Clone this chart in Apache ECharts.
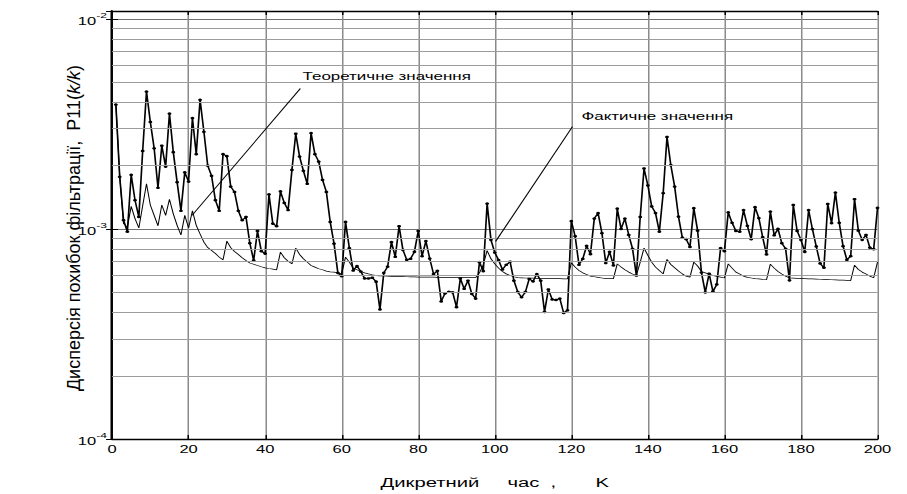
<!DOCTYPE html>
<html>
<head>
<meta charset="utf-8">
<script src="https://cdn.jsdelivr.net/npm/echarts@6/dist/echarts.min.js"></script>
<style>
  html, body { margin: 0; background: #fff; overflow: hidden; }
  /* the reference is a horizontally stretched picture, so draw narrow and stretch */
  #chart { width: 605px; height: 494px; transform: scaleX(1.5); transform-origin: 0 0; }
</style>
</head>
<body>
<div id="chart"></div>
<script>
// step k = 1..200, filter error variance P11(k/k)
const actual = [
  3.91e-3, 1.77e-3, 1.10e-3, 0.97e-3, 1.81e-3, 1.37e-3, 1.14e-3, 2.35e-3, 4.51e-3, 3.23e-3,
  2.42e-3, 1.57e-3, 2.49e-3, 1.98e-3, 3.54e-3, 2.32e-3, 1.67e-3, 1.22e-3, 1.86e-3, 1.68e-3,
  3.37e-3, 2.27e-3, 4.12e-3, 2.90e-3, 2.00e-3, 1.79e-3, 1.37e-3, 1.22e-3, 2.27e-3, 2.22e-3,
  1.59e-3, 1.50e-3, 1.22e-3, 1.10e-3, 1.14e-3, 0.855e-3, 0.708e-3, 0.978e-3, 0.784e-3, 0.763e-3,
  1.46e-3, 1.06e-3, 1.03e-3, 1.51e-3, 1.33e-3, 1.23e-3, 1.91e-3, 2.84e-3, 2.21e-3, 1.89e-3,
  1.64e-3, 2.86e-3, 2.27e-3, 2.09e-3, 1.71e-3, 1.50e-3, 1.08e-3, 0.851e-3, 0.618e-3, 0.596e-3,
  1.08e-3, 0.810e-3, 0.634e-3, 0.666e-3, 0.627e-3, 0.581e-3, 0.581e-3, 0.586e-3, 0.561e-3, 0.414e-3,
  0.618e-3, 0.661e-3, 0.865e-3, 0.737e-3, 1.03e-3, 0.795e-3, 0.713e-3, 0.721e-3, 0.778e-3, 0.978e-3,
  0.742e-3, 0.875e-3, 0.723e-3, 0.610e-3, 0.632e-3, 0.452e-3, 0.493e-3, 0.502e-3, 0.499e-3, 0.424e-3,
  0.581e-3, 0.519e-3, 0.567e-3, 0.491e-3, 0.466e-3, 0.695e-3, 0.630e-3, 1.32e-3, 0.887e-3, 0.772e-3,
  0.711e-3, 0.641e-3, 0.675e-3, 0.698e-3, 0.567e-3, 0.501e-3, 0.473e-3, 0.501e-3, 0.578e-3, 0.563e-3,
  0.610e-3, 0.567e-3, 0.403e-3, 0.515e-3, 0.462e-3, 0.459e-3, 0.466e-3, 0.398e-3, 0.410e-3, 1.09e-3,
  0.923e-3, 0.675e-3, 0.721e-3, 0.831e-3, 0.758e-3, 1.12e-3, 1.19e-3, 0.954e-3, 0.688e-3, 0.778e-3,
  0.670e-3, 1.25e-3, 1.00e-3, 1.12e-3, 0.936e-3, 0.804e-3, 0.600e-3, 1.14e-3, 1.94e-3, 1.61e-3,
  1.28e-3, 1.19e-3, 0.970e-3, 1.48e-3, 2.74e-3, 2.01e-3, 1.59e-3, 1.145e-3, 0.909e-3, 0.894e-3,
  0.821e-3, 1.256e-3, 0.981e-3, 0.620e-3, 0.499e-3, 0.612e-3, 0.504e-3, 0.544e-3, 0.810e-3, 0.784e-3,
  1.20e-3, 1.07e-3, 0.978e-3, 0.970e-3, 1.23e-3, 1.035e-3, 0.894e-3, 1.27e-3, 1.126e-3, 0.913e-3,
  0.756e-3, 1.21e-3, 0.933e-3, 1.00e-3, 0.855e-3, 0.804e-3, 0.569e-3, 1.30e-3, 0.978e-3, 0.887e-3,
  0.778e-3, 1.23e-3, 0.997e-3, 0.825e-3, 0.685e-3, 0.654e-3, 1.315e-3, 1.066e-3, 1.49e-3, 1.07e-3,
  0.828e-3, 0.713e-3, 0.742e-3, 1.385e-3, 0.981e-3, 0.887e-3, 0.936e-3, 0.815e-3, 0.801e-3, 1.26e-3
];

const theory = [
  3.91e-3, 1.79e-3, 1.06e-3, 1.02e-3, 1.28e-3, 1.12e-3, 1.01e-3, 1.29e-3, 1.64e-3, 1.30e-3,
  1.16e-3, 1.035e-3, 1.30e-3, 1.16e-3, 1.385e-3, 1.18e-3, 1.04e-3, 0.936e-3, 1.16e-3, 1.01e-3,
  1.22e-3, 1.04e-3, 0.946e-3, 0.865e-3, 0.815e-3, 0.789e-3, 0.764e-3, 0.734e-3, 0.713e-3, 0.875e-3,
  0.815e-3, 0.781e-3, 0.755e-3, 0.729e-3, 0.708e-3, 0.688e-3, 0.679e-3, 0.670e-3, 0.661e-3, 0.653e-3,
  0.648e-3, 0.644e-3, 0.639e-3, 0.776e-3, 0.729e-3, 0.702e-3, 0.682e-3, 0.810e-3, 0.756e-3, 0.721e-3,
  0.695e-3, 0.670e-3, 0.658e-3, 0.646e-3, 0.639e-3, 0.630e-3, 0.625e-3, 0.623e-3, 0.618e-3, 0.611e-3,
  0.734e-3, 0.695e-3, 0.651e-3, 0.639e-3, 0.627e-3, 0.618e-3, 0.611e-3, 0.605e-3, 0.600e-3, 0.598e-3,
  0.597e-3, 0.596e-3, 0.595e-3, 0.594e-3, 0.593e-3, 0.593e-3, 0.592e-3, 0.591e-3, 0.591e-3, 0.590e-3,
  0.590e-3, 0.589e-3, 0.589e-3, 0.589e-3, 0.588e-3, 0.588e-3, 0.588e-3, 0.587e-3, 0.587e-3, 0.587e-3,
  0.587e-3, 0.586e-3, 0.586e-3, 0.586e-3, 0.586e-3, 0.618e-3, 0.675e-3, 0.789e-3, 0.721e-3, 0.682e-3,
  0.651e-3, 0.627e-3, 0.611e-3, 0.600e-3, 0.592e-3, 0.586e-3, 0.585e-3, 0.584e-3, 0.583e-3, 0.583e-3,
  0.582e-3, 0.582e-3, 0.581e-3, 0.581e-3, 0.580e-3, 0.580e-3, 0.580e-3, 0.579e-3, 0.579e-3, 0.690e-3,
  0.658e-3, 0.634e-3, 0.618e-3, 0.607e-3, 0.596e-3, 0.592e-3, 0.588e-3, 0.584e-3, 0.580e-3, 0.580e-3,
  0.580e-3, 0.682e-3, 0.658e-3, 0.639e-3, 0.623e-3, 0.610e-3, 0.600e-3, 0.695e-3, 0.810e-3, 0.749e-3,
  0.695e-3, 0.658e-3, 0.634e-3, 0.611e-3, 0.716e-3, 0.677e-3, 0.653e-3, 0.630e-3, 0.611e-3, 0.596e-3,
  0.590e-3, 0.695e-3, 0.666e-3, 0.627e-3, 0.618e-3, 0.609e-3, 0.600e-3, 0.594e-3, 0.590e-3, 0.584e-3,
  0.682e-3, 0.651e-3, 0.623e-3, 0.610e-3, 0.596e-3, 0.588e-3, 0.584e-3, 0.580e-3, 0.578e-3, 0.575e-3,
  0.573e-3, 0.680e-3, 0.651e-3, 0.627e-3, 0.610e-3, 0.596e-3, 0.584e-3, 0.583e-3, 0.582e-3, 0.581e-3,
  0.580e-3, 0.579e-3, 0.578e-3, 0.577e-3, 0.576e-3, 0.575e-3, 0.574e-3, 0.573e-3, 0.572e-3, 0.571e-3,
  0.570e-3, 0.569e-3, 0.568e-3, 0.673e-3, 0.641e-3, 0.623e-3, 0.610e-3, 0.596e-3, 0.586e-3, 0.695e-3
];

// log grid lines between the decades
const yMinor = [
  2e-4, 3e-4, 4e-4, 5e-4, 6e-4, 7e-4, 8e-4, 9e-4,
  2e-3, 3e-3, 4e-3, 5e-3, 6e-3, 7e-3, 8e-3, 9e-3
];
const xMin = 0;
const xMax = 200;
const yMin = 1e-4;
const yTop = 1.09e-2;

// pointer lines with their captions: [k, value]
const theoryNote = { from: [20.9, 1.16e-3], to: [49.2, 4.66e-3], text: 'Теоретичне значення' };
const actualNote = { from: [100.2, 0.871e-3], to: [120.3, 3.07e-3], text: 'Фактичне значення' };

const xTitle = 'Дикретний     час  ,       K';
const yTitle = 'Дисперсія похибок фільтрації,  P11({i|k/k})';

const steps = actual.map((v, i) => i + 1);
const pairs = arr => arr.map((v, i) => [steps[i], v]);

const font = '"Liberation Sans", Arial, sans-serif';
const frame = { color: '#000', width: 1.4 };

const powLabel = v => {
  const p = Math.log10(v);
  const r = Math.round(p);
  return Math.abs(p - r) < 1e-6 ? '{b|10}{s|' + r + '}' : '';
};

const chart = echarts.init(document.getElementById('chart'), null, { renderer: 'svg' });

const option = {
  animation: false,
  backgroundColor: '#fff',
  grid: { left: 74.7, right: 20, top: 11, bottom: 52.5 },
  // the vertical title is long and thin in the reference, so it is stretched along its length
  graphic: [{
    type: 'text', left: 43, top: 65, rotation: Math.PI / 2, scaleX: 1.5,
    silent: true,
    style: {
      text: yTitle, fill: '#000', fontFamily: font, fontSize: 12,
      rich: { i: { fontFamily: font, fontSize: 12, fontStyle: 'italic', fill: '#000' } }
    }
  }],
  xAxis: [
    {
      type: 'value', min: xMin, max: xMax, interval: 20,
      name: xTitle,
      nameLocation: 'middle', nameGap: 36, nameMoveOverlap: false,
      nameTextStyle: { fontFamily: font, fontSize: 13.5, color: '#000' },
      axisLine: { lineStyle: frame },
      axisTick: { inside: true, length: 4, lineStyle: { color: '#000' } },
      axisLabel: { fontFamily: font, fontSize: 11, color: '#000', margin: 5 },
      splitLine: { show: true, lineStyle: { color: '#8a8a8a', width: 1 } }
    },
    {
      type: 'value', position: 'top', min: xMin, max: xMax, interval: 20,
      axisLine: { lineStyle: frame },
      axisTick: { inside: true, length: 4, lineStyle: { color: '#000' } },
      axisLabel: { show: false },
      splitLine: { show: false }
    }
  ],
  yAxis: [
    {
      type: 'log', logBase: 10, min: yMin, max: yTop,
      axisLine: { lineStyle: frame },
      axisTick: { inside: true, length: 4, lineStyle: { color: '#000' } },
      axisLabel: {
        margin: 3.5, formatter: powLabel, hideOverlap: false,
        rich: {
          b: { fontFamily: font, fontSize: 11, color: '#000', lineHeight: 16, verticalAlign: 'bottom' },
          s: { fontFamily: font, fontSize: 8, color: '#000', lineHeight: 8, verticalAlign: 'top' }
        }
      },
      splitLine: { show: true, lineStyle: { color: '#707070', width: 1 } }
    },
    {
      type: 'log', logBase: 10, min: yMin, max: yTop, position: 'right',
      axisLine: { lineStyle: frame },
      axisTick: { inside: true, length: 4, lineStyle: { color: '#000' } },
      axisLabel: { show: false },
      splitLine: { show: false }
    }
  ],
  series: [
    {
      name: 'Теоретичне значення',
      type: 'line', z: 2,
      data: pairs(theory),
      showSymbol: false, symbol: 'none',
      lineStyle: { color: '#000', width: 0.7 },
      markLine: {
        silent: true, symbol: 'none', animation: false,
        label: { show: false },
        lineStyle: { color: '#9c9c9c', width: 1, type: 'solid' },
        data: yMinor.map(v => [{ coord: [xMin, v] }, { coord: [xMax, v] }])
      }
    },
    {
      name: 'Фактичне значення',
      type: 'line', z: 3,
      data: pairs(actual),
      symbol: 'circle', symbolSize: 2.6,
      itemStyle: { color: '#000' },
      lineStyle: { color: '#000', width: 1.1 },
      markLine: {
        silent: true, symbol: 'none', animation: false,
        label: { show: false },
        lineStyle: { color: '#000', width: 0.8, type: 'solid' },
        data: [
          [{ coord: theoryNote.from }, { coord: theoryNote.to }],
          [{ coord: actualNote.from }, { coord: actualNote.to }]
        ]
      },
      markPoint: {
        silent: true, symbol: 'circle', symbolSize: 0, animation: false,
        label: { show: true, fontFamily: font, fontSize: 11.3, color: '#000' },
        data: [
          { coord: theoryNote.to, label: { formatter: theoryNote.text, position: [1.5, -18] } },
          { coord: actualNote.to, label: { formatter: actualNote.text, position: [6, -16] } }
        ]
      }
    }
  ]
};

chart.setOption(option);
</script>
</body>
</html>
